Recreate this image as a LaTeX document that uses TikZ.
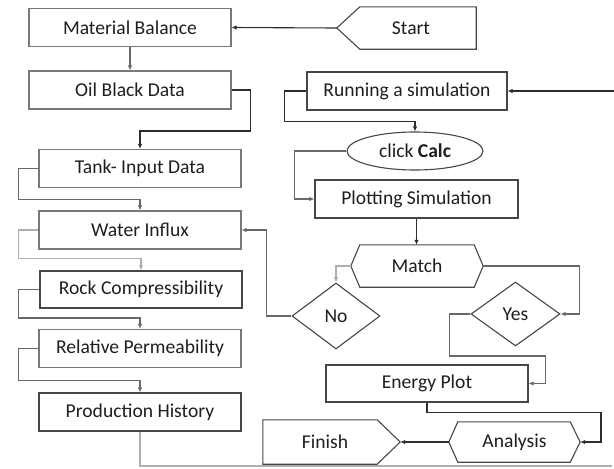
\documentclass[tikz,border=0pt]{standalone}
\usepackage{fontspec}
\setmainfont{Carlito}
\usetikzlibrary{arrows.meta,shapes.geometric,calc}
\definecolor{bd}{RGB}{120,120,120}
\definecolor{bdk}{RGB}{70,70,70}
\definecolor{dk}{RGB}{45,45,45}
\definecolor{md}{RGB}{105,105,105}
\definecolor{lt}{RGB}{175,175,175}
\definecolor{tx}{RGB}{30,30,30}
\begin{document}
\begin{tikzpicture}[x=1pt,y=-1pt,
  every node/.style={inner sep=0pt,text=tx,font=\fontsize{19.6}{22}\selectfont},
  bx/.style={draw=bd,line width=1.1pt,minimum width=202pt,minimum height=38pt},
  bxd/.style={bx,draw=bdk},
  shp/.style={draw=bdk,line width=1.1pt,line join=miter},
  con/.style={line width=1.1pt,-{Latex[length=5pt,width=4.5pt]}},
  cdk/.style={con,draw=dk},
  cmd/.style={con,draw=md},
  clt/.style={con,draw=lt}]
\useasboundingbox (0,0) rectangle (614,469);

% left column
\node[bx] (mb) at (130,27.5) {Material Balance};
\node[bx] (obd) at (130,90) {Oil Black Data};
\node[bx] (tank) at (140,168.5) {Tank- Input Data};
\node[bx] (wi) at (140,230) {Water Influx};
\node[bxd,minimum height=37pt] (rock) at (141,289.5) {Rock Compressibility};
\node[bx] (rel) at (140,348.5) {Relative Permeability};
\node[bxd] (ph) at (140,412) {Production History};

% right column
\node[minimum width=139pt,minimum height=42pt] (start) at (406.5,28) {\hspace*{9pt}Start};
\draw[shp] (start.west) -- ($(start.north west)+(23,0)$) -- (start.north east) -- (start.south east) -- ($(start.south west)+(23,0)$) -- cycle;

\node[bxd,minimum width=200pt] (run) at (407,91) {Running a simulation};
\node[draw=bdk,ellipse,line width=1.1pt,minimum width=136pt,minimum height=38pt] (calc) at (415,151) {click \textbf{Calc}};
\node[bxd,minimum width=203pt] (plot) at (416.5,199) {Plotting Simulation};

\node[minimum width=132pt,minimum height=42pt] (match) at (417,266) {Match};
\draw[shp] (match.west) -- ($(match.north west)+(9,0)$) -- ($(match.north east)+(-9,0)$) -- (match.east) -- ($(match.south east)+(-9,0)$) -- ($(match.south west)+(9,0)$) -- cycle;

\node[diamond,draw=bdk,line width=1.1pt,minimum width=88pt,minimum height=66pt] (no) at (336,316) {No};
\node[diamond,draw=bdk,line width=1.1pt,minimum width=89pt,minimum height=64pt] (yes) at (515.5,314) {Yes};

\node[bxd,minimum height=37pt] (energy) at (427,383.5) {Energy Plot};

\node[minimum width=131pt,minimum height=40pt] (analysis) at (514.5,442) {Analysis};
\draw[shp] (analysis.west) -- ($(analysis.north west)+(9,0)$) -- ($(analysis.north east)+(-10,0)$) -- (analysis.east) -- ($(analysis.south east)+(-10,0)$) -- ($(analysis.south west)+(9,0)$) -- cycle;

\node[minimum width=137pt,minimum height=44pt] (finish) at (331.5,442) {Finish\hspace*{13pt}};
\draw[shp] (finish.north west) -- ($(finish.north east)+(-23,0)$) -- (finish.east) -- ($(finish.south east)+(-23,0)$) -- (finish.south west) -- cycle;

% free ends
\coordinate (rin) at (614,91);
\coordinate (phend) at (612,466);

% connectors
\draw[cdk] (start.west) -- (mb.east);
\draw[cmd] (mb.south) -- (obd.north);
\draw[cdk] (obd.east) -- ++(19,0) -- ++(0,41) -| (tank.north);
\draw[cmd] (tank.west) -- ++(-20,0) |- ($(wi.north)+(0,-11)$) -- (wi.north);
\draw[clt] (wi.west) -- ++(-20,0) |- ($(rock.north)+(0,-12)$) -- (rock.north);
\draw[cmd] (rock.west) -- ++(-21,0) |- ($(rel.north)+(0,-11)$) -- (rel.north);
\draw[cmd] (rel.west) -- ++(-20,0) |- ($(ph.north)+(0,-12)$) -- (ph.north);
\draw[line width=1.1pt,draw=lt] (ph.south) |- (phend);

\draw[cdk] (rin) -- (run.east);
\draw[cdk] (run.west) -- ++(-22,0) |- ($(calc.north)+(0,-10)$) -- (calc.north);
\draw[cmd] (calc.west) -- ++(-52,0) |- (plot.west);
\draw[cdk] (plot.south) -- (plot.south |- match.north);
\draw[clt] (match.west) -| (no.north);
\draw[cmd] (match.east) -- ++(96,0) |- (yes.east);
\draw[cmd] (no.west) -- ++(-25,0) |- (wi.east);
\draw[cmd] (yes.west) -- ++(-21,0) -- ++(0,42) -- ++(96,0) |- (energy.east);
\draw[cdk] (energy.south) -- ++(0,10) -- ++(174,0) |- (analysis.east);
\draw[cdk] (analysis.west) -- (finish.east);
\end{tikzpicture}
\end{document}
